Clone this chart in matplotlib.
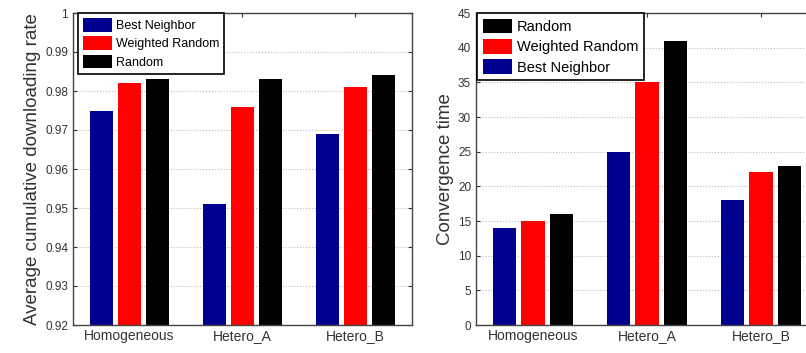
import matplotlib
matplotlib.use("Agg")
import matplotlib.pyplot as plt
import numpy as np

plt.rcParams['font.family'] = ['Liberation Sans', 'DejaVu Sans']

categories = ["Homogeneous", "Hetero_A", "Hetero_B"]

# Left panel: average cumulative downloading rate
rate_best = [0.975, 0.951, 0.969]
rate_weighted = [0.982, 0.976, 0.981]
rate_random = [0.983, 0.983, 0.984]

# Right panel: convergence time
conv_best = [14, 25, 18]
conv_weighted = [15, 35, 22]
conv_random = [16, 41, 23]

BLUE = "#00008f"
RED = "#ff0000"
BLACK = "#000000"

fig = plt.figure(figsize=(8.06, 3.53), dpi=100)
axL = fig.add_axes([73/806, 1-325/353, 339/806, 312/353])
axR = fig.add_axes([476/806, 1-325/353, 342/806, 312/353])

x = np.arange(1, len(categories) + 1)
w = 0.205
pitch = 0.25

def style(ax):
    ax.set_xlim(0.5, 3.5)
    ax.set_xticks(x)
    ax.set_xticklabels(categories, color="#333333")
    ax.tick_params(direction="in", top=True, right=True, length=3, labelsize=8.5, colors="#333333")
    ax.tick_params(axis="x", labelsize=10, pad=3)
    ax.yaxis.grid(True, linestyle=":", color="#bbbbbb", linewidth=0.8)
    ax.xaxis.grid(False)
    ax.set_axisbelow(True)
    for s in ax.spines.values():
        s.set_color("#444444")
        s.set_linewidth(1.0)

bL1 = axL.bar(x - pitch, rate_best, w, color=BLUE, label="Best Neighbor")
bL2 = axL.bar(x, rate_weighted, w, color=RED, label="Weighted Random")
bL3 = axL.bar(x + pitch, rate_random, w, color=BLACK, label="Random")
axL.set_ylim(0.92, 1.0)
axL.set_yticks([0.92, 0.93, 0.94, 0.95, 0.96, 0.97, 0.98, 0.99, 1.0])
axL.set_yticklabels(["0.92", "0.93", "0.94", "0.95", "0.96", "0.97", "0.98", "0.99", "1"])
axL.set_ylabel("Average cumulative downloading rate", fontsize=13.5, color="#333333", labelpad=3)
style(axL)
legL = axL.legend(handles=[bL1, bL2, bL3], loc="upper left", fontsize=9, frameon=True,
                  fancybox=False, edgecolor="black", framealpha=1, borderaxespad=0.0,
                  bbox_to_anchor=(0.015, 1.0),
                  handlelength=2.3, handleheight=1.3, handletextpad=0.3, labelspacing=0.35,
                  borderpad=0.4)
legL.get_frame().set_linewidth(1.2)

bR1 = axR.bar(x - pitch, conv_best, w, color=BLUE, label="Best Neighbor")
bR2 = axR.bar(x, conv_weighted, w, color=RED, label="Weighted Random")
bR3 = axR.bar(x + pitch, conv_random, w, color=BLACK, label="Random")
axR.set_ylim(0, 45)
axR.set_yticks(np.arange(0, 46, 5))
axR.set_ylabel("Convergence time", fontsize=13.5, color="#333333", labelpad=3)
style(axR)
legR = axR.legend(handles=[bR3, bR2, bR1], loc="upper left", fontsize=10.5, frameon=True,
                  fancybox=False, edgecolor="black", framealpha=1, borderaxespad=0.0,
                  bbox_to_anchor=(0.004, 1.0),
                  handlelength=2.0, handleheight=1.15, handletextpad=0.3, labelspacing=0.35,
                  borderpad=0.4)
legR.get_frame().set_linewidth(1.2)

fig.savefig("out.png", dpi=100)
